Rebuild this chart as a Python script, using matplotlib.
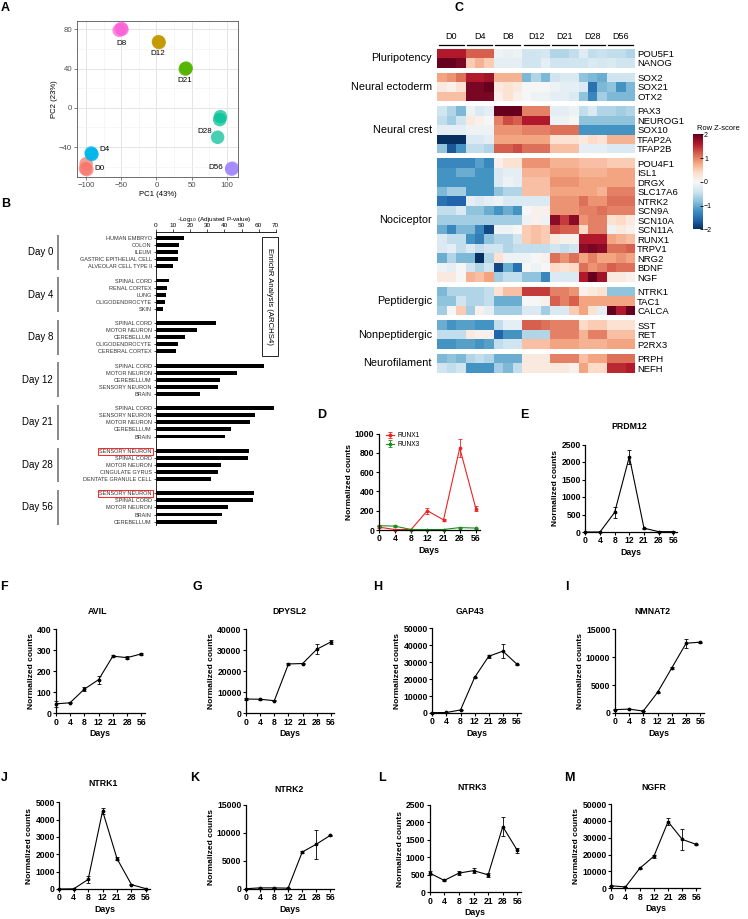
import numpy as np
import matplotlib
matplotlib.use('Agg')
import matplotlib.pyplot as plt
from matplotlib.patches import Rectangle
from matplotlib.transforms import blended_transform_factory as blend

plt.rcParams['font.family'] = ['Liberation Sans', 'DejaVu Sans']

W, H = 748, 919
fig = plt.figure(figsize=(W / 100, H / 100), dpi=100)


def px_axes(l, t, r, b):
    return fig.add_axes([l / W, 1 - b / H, (r - l) / W, (b - t) / H])


def ptext(x, y, s, **kw):
    return fig.text(x / W, 1 - y / H, s, **kw)


# ---------------- data ----------------
# A: PCA
pca_days = ['D0', 'D4', 'D8', 'D12', 'D21', 'D28', 'D56']
pca_colors = ['#F8766D', '#00B6EB', '#FB61D7', '#C49A00', '#53B400', '#00C094', '#A58AFF']
pc1 = [[-100, -101, -99], [-92, -93, -92], [-53, -50, -49], [3, 3, 4],
       [42, 42, 41], [91, 90, 87], [107, 107, 108]]
pc2 = [[-57, -62, -63], [-47, -46, -47.5], [79, 81, 80], [67, 67.5, 66.5],
       [40, 40.5, 39.5], [-9, -12, -30], [-62, -62.5, -61.5]]

# B: EnrichR
enr_days = ['Day 0', 'Day 4', 'Day 8', 'Day 12', 'Day 21', 'Day 28', 'Day 56']
enr_terms = [
    ['HUMAN EMBRYO', 'COLON', 'ILEUM', 'GASTRIC EPITHELIAL CELL', 'ALVEOLAR CELL TYPE II'],
    ['SPINAL CORD', 'RENAL CORTEX', 'LUNG', 'OLIGODENDROCYTE', 'SKIN'],
    ['SPINAL CORD', 'MOTOR NEURON', 'CEREBELLUM', 'OLIGODENDROCYTE', 'CEREBRAL CORTEX'],
    ['SPINAL CORD', 'MOTOR NEURON', 'CEREBELLUM', 'SENSORY NEURON', 'BRAIN'],
    ['SPINAL CORD', 'SENSORY NEURON', 'MOTOR NEURON', 'CEREBELLUM', 'BRAIN'],
    ['SENSORY NEURON', 'SPINAL CORD', 'MOTOR NEURON', 'CINGULATE GYRUS', 'DENTATE GRANULE CELL'],
    ['SENSORY NEURON', 'SPINAL CORD', 'MOTOR NEURON', 'BRAIN', 'CEREBELLUM'],
]
enr_vals = [
    [16.2, 13.5, 13.0, 12.7, 10.0],
    [7.6, 6.3, 5.7, 5.1, 4.1],
    [35.3, 23.9, 17.0, 12.7, 11.6],
    [63.3, 47.6, 37.3, 36.5, 25.7],
    [69.2, 58.0, 54.9, 43.7, 40.2],
    [54.3, 53.7, 38.0, 36.5, 32.4],
    [57.6, 56.7, 42.2, 38.4, 35.7],
]

# C: heatmap (row z-scores, 3 replicates per day)
hm_days = ['D0', 'D4', 'D8', 'D12', 'D21', 'D28', 'D56']
hm_groups = ['Pluripotency', 'Neural ectoderm', 'Neural crest', 'Nociceptor',
             'Peptidergic', 'Nonpeptidergic', 'Neurofilament']
hm_genes = [
    ['POU5F1', 'NANOG'],
    ['SOX2', 'SOX21', 'OTX2'],
    ['PAX3', 'NEUROG1', 'SOX10', 'TFAP2A', 'TFAP2B'],
    ['POU4F1', 'ISL1', 'DRGX', 'SLC17A6', 'NTRK2', 'SCN9A', 'SCN10A', 'SCN11A',
     'RUNX1', 'TRPV1', 'NRG2', 'BDNF', 'NGF'],
    ['NTRK1', 'TAC1', 'CALCA'],
    ['SST', 'RET', 'P2RX3'],
    ['PRPH', 'NEFH'],
]
z_pluri = [
    [1.6, 1.6, 1.6, 1.2, 1.2, 1.2, -0.1, -0.15, -0.1, -0.4, -0.4, -0.35, -0.6, -0.6, -0.5, -0.25, -0.5, -0.45, -0.5, -0.5, -0.6],
    [2.0, 2.0, 1.9, 0.5, 0.7, 0.5, -0.2, -0.2, -0.2, -0.4, -0.4, -0.2, -0.4, -0.4, -0.4, -0.4, -0.3, -0.35, -0.3, -0.4, -0.4],
]
z_ecto = [
    [0.8, 0.9, 1.1, 1.6, 1.6, 1.7, 0.7, 0.7, 0.7, -0.9, -0.6, -0.9, -0.4, -0.3, -0.3, -0.8, -0.9, -1.0, -0.4, -0.4, -0.4],
    [0.2, 0.1, 0.3, 1.9, 1.9, 2.0, 0.2, 0.3, 0.2, 0.0, 0.0, 0.0, -0.1, -0.2, -0.2, -0.3, -1.5, -0.9, -0.8, -1.2, -0.9],
    [0.6, 0.6, 0.6, 1.9, 1.9, 1.9, 0.1, 0.3, 0.1, 0.0, -0.1, -0.1, -0.2, -0.2, -0.3, -0.8, -1.3, -0.7, -0.9, -0.9, -0.9],
]
z_crest = [
    [-0.4, -0.6, -0.9, -0.1, -0.3, -0.2, 2.0, 2.0, 2.0, 1.0, 1.0, 1.0, -0.2, -0.2, -0.1, -0.5, -0.3, -0.6, -0.6, -0.7, -0.6],
    [-0.5, -0.7, -0.4, 0.2, 0.1, 0.0, 1.0, 1.3, 1.2, 1.6, 1.6, 1.6, -0.1, -0.1, 0.0, -0.8, -0.8, -0.8, -0.8, -0.8, -0.8],
    [-0.2, -0.2, -0.2, -0.1, -0.1, -0.1, 0.9, 0.9, 0.9, 1.0, 1.0, 1.0, 1.1, 1.1, 1.1, -1.2, -1.2, -1.2, -1.2, -1.2, -1.2],
    [-2.0, -2.1, -2.0, -0.3, -0.3, -0.2, 0.8, 0.8, 0.8, 0.8, 0.8, 0.8, 0.3, 0.3, 0.3, 0.2, 0.4, 0.3, 0.7, 0.7, 0.7],
    [-0.8, -1.7, -1.2, -0.5, -0.5, -0.6, 1.2, 1.2, 1.3, 1.1, 1.1, 1.1, 0.6, 0.6, 0.6, -0.2, -0.2, -0.2, -0.3, -0.3, -0.3],
]
z_noci = [
    [-1.3, -1.3, -1.3, -1.3, -1.1, -1.3, 0.1, 0.3, 0.3, 0.9, 0.9, 0.9, 0.7, 0.7, 0.7, 0.6, 0.6, 0.6, 0.5, 0.5, 0.5],
    [-1.2, -1.2, -1.0, -1.0, -1.2, -1.2, -0.3, -0.2, -0.2, 0.7, 0.7, 0.7, 0.8, 0.8, 0.8, 0.7, 0.7, 0.7, 0.8, 0.8, 0.8],
    [-1.2, -1.2, -1.2, -1.2, -1.2, -1.2, -0.3, -0.1, -0.2, 0.6, 0.6, 0.6, 0.9, 0.9, 0.9, 0.8, 0.8, 0.8, 0.8, 0.8, 0.8],
    [-0.9, -0.7, -0.7, -1.2, -1.2, -1.2, -0.8, -0.6, -0.6, 0.6, 0.6, 0.6, 0.8, 0.8, 0.8, 0.8, 0.8, 0.7, 1.0, 1.0, 1.0],
    [-1.5, -1.6, -1.6, -0.2, -0.3, -0.2, -0.1, -0.3, -0.3, -0.3, -0.3, -0.3, 0.9, 0.9, 0.9, 1.1, 0.9, 0.9, 1.1, 1.1, 1.1],
    [-0.5, -0.5, -0.3, -0.8, -0.8, -1.0, -1.2, -1.0, -1.2, 0.0, 0.1, 0.1, 0.9, 0.9, 0.9, 1.0, 1.0, 1.1, 1.0, 1.0, 1.0],
    [-0.7, -0.7, -0.7, -0.7, -0.7, -0.7, -0.7, -0.7, -0.7, -0.1, 0.1, -0.1, 1.8, 1.4, 1.8, 0.9, 1.0, 1.0, 0.3, 0.4, 0.2],
    [-1.0, -1.3, -0.9, -0.9, -1.3, -1.8, -0.1, -0.1, 0.0, 0.5, 0.6, 0.5, 1.3, 1.2, 1.2, 0.4, 1.0, 1.0, -0.1, 0.2, 0.1],
    [-0.3, -0.5, -0.5, -1.2, -1.4, -0.8, -0.6, -0.6, -0.4, 0.5, 0.6, 0.5, 0.2, 0.1, 0.1, 1.6, 1.6, 1.6, 0.8, 0.7, 0.6],
    [-0.3, -0.2, -0.5, -0.3, -0.5, -0.4, -0.4, -0.6, -0.5, -0.5, -0.5, -0.5, -0.4, -0.5, -0.4, 1.8, 1.9, 1.8, 1.1, 1.1, 1.2],
    [-1.0, -0.6, -0.9, -0.9, -2.0, -0.6, 0.3, -0.1, -0.1, -0.1, 0.0, 0.1, 1.1, 0.9, 1.1, 0.8, 1.0, 0.8, 0.8, 0.9, 0.8],
    [-0.1, -0.2, 0.0, -0.4, -0.6, -0.4, -1.8, -1.0, -1.5, 0.0, -0.1, 0.0, 0.4, 0.3, 0.4, 1.1, 0.9, 1.0, 1.2, 1.1, 1.1],
    [0.2, 0.2, 0.0, 0.7, 0.6, 0.8, -0.7, -0.5, -0.5, -0.8, -0.8, -1.3, -0.3, -0.3, -0.3, 1.6, 2.0, 1.7, 0.2, 0.2, 0.1],
]
z_pept = [
    [-0.9, -0.6, -0.6, -0.6, -0.6, -0.5, 0.3, 0.6, 0.6, 1.4, 1.4, 1.4, 1.0, 1.0, 0.9, 0.1, 0.2, 0.3, -0.8, -0.8, -0.8],
    [-0.8, -0.8, -0.4, -0.6, -0.6, -0.5, -1.0, -1.0, -1.0, 0.0, 0.0, 0.1, 1.2, 1.0, 1.2, 0.8, 0.8, 0.8, 0.8, 0.8, 0.8],
    [-0.7, 0.0, 0.5, -0.7, 0.1, -0.2, -0.7, -0.7, -0.7, -0.3, -0.3, -0.7, -0.3, -0.3, 0.5, 0.8, 0.3, -0.2, 2.2, 1.6, 2.2],
]
z_nonpept = [
    [-1.0, -1.2, -1.1, -1.1, -1.2, -1.2, -0.5, -0.2, -0.2, 1.2, 1.2, 1.1, 1.0, 1.0, 1.0, 0.4, 0.5, 0.5, 0.3, 0.3, 0.3],
    [-0.5, -0.5, -0.5, 0.2, 0.1, 0.1, -1.6, -1.2, -1.2, -0.6, -0.6, -0.6, 1.0, 1.0, 1.0, 0.7, 1.0, 1.0, 0.6, 0.6, 0.6],
    [-1.2, -1.2, -1.1, -1.1, -1.2, -1.1, -0.5, -0.4, -0.4, 0.6, 0.6, 0.6, 0.8, 0.8, 0.8, 0.7, 0.7, 0.7, 0.8, 0.8, 0.8],
]
z_neurofil = [
    [-0.9, -0.8, -0.9, -0.6, -0.5, -0.6, -1.0, -1.0, -1.0, 0.2, 0.2, 0.2, 1.0, 1.0, 1.0, 0.6, 0.8, 0.8, 1.1, 1.1, 1.1],
    [-0.4, -0.5, -0.4, -1.2, -1.2, -1.2, -0.7, -0.9, -0.5, 0.2, 0.2, 0.2, 0.2, 0.2, 0.1, 0.8, 0.4, 0.4, 1.5, 1.5, 1.6],
]
hm_z = [z_pluri, z_ecto, z_crest, z_noci, z_pept, z_nonpept, z_neurofil]

# D-M: normalized counts over time
time_days = ['0', '4', '8', '12', '21', '28', '56']
runx1 = [30, 5, 5, 200, 105, 850, 220]
runx1_err = [10, 3, 3, 30, 8, 90, 25]
runx3 = [45, 40, 5, 5, 5, 25, 20]
runx3_err = [5, 8, 2, 2, 2, 5, 5]
prdm12 = [0, 0, 560, 2150, 110, 10, 10]
prdm12_err = [0, 0, 150, 200, 15, 5, 5]
avil = [45, 50, 115, 160, 272, 265, 283]
avil_err = [15, 3, 10, 20, 6, 8, 4]
dpysl2 = [6800, 6700, 6000, 23500, 23700, 30500, 34000]
dpysl2_err = [300, 300, 300, 400, 400, 2500, 800]
gap43 = [200, 300, 1800, 21000, 33500, 36500, 28800]
gap43_err = [100, 100, 200, 500, 800, 4000, 400]
nmnat2 = [600, 700, 350, 3700, 8100, 12500, 12700]
nmnat2_err = [50, 50, 50, 100, 150, 800, 100]
ntrk1 = [0, 10, 550, 4500, 1750, 250, 20]
ntrk1_err = [0, 5, 200, 150, 80, 20, 5]
ntrk2 = [50, 200, 200, 150, 6600, 8000, 9600]
ntrk2_err = [10, 30, 30, 30, 100, 2600, 100]
ntrk3 = [550, 340, 550, 620, 500, 1880, 1200]
ntrk3_err = [50, 15, 50, 80, 50, 280, 70]
ngfr = [1500, 800, 11800, 19000, 39500, 29000, 26000]
ngfr_err = [100, 100, 400, 800, 2000, 6000, 500]

# ---------------- panel letters ----------------
for lt, x, y in [('A', 5, 8), ('B', 6, 204), ('C', 459, 8), ('D', 322, 415), ('E', 524, 415),
                 ('F', 4, 587), ('G', 197, 587), ('H', 378, 587), ('I', 567, 587),
                 ('J', 4, 778), ('K', 195, 778), ('L', 382, 778), ('M', 569, 778)]:
    ptext(x, y, lt, fontsize=9, fontweight='bold', ha='center', va='center')

# ---------------- A: PCA ----------------
axa = px_axes(77, 21, 238, 177)
for xs, ys, c in zip(pc1, pc2, pca_colors):
    axa.scatter(xs, ys, s=95, color=c, alpha=0.72, edgecolors='none', zorder=3)
lab_off = {'D0': (19, -1), 'D4': (19, 4), 'D8': (1, -14), 'D12': (-2, -12),
           'D21': (-2, -12), 'D28': (-21, -7), 'D56': (-23, 1)}
for d, xs, ys in zip(pca_days, pc1, pc2):
    dx, dy = lab_off[d]
    axa.text(np.mean(xs) + dx, np.mean(ys) + dy, d, fontsize=5.8, ha='center', va='center')
axa.set_xlim(-113, 116)
axa.set_ylim(-70.5, 88.5)
axa.set_xticks([-100, -50, 0, 50, 100])
axa.set_yticks([-40, 0, 40, 80])
axa.set_xticks([-75, -25, 25, 75], minor=True)
axa.set_yticks([-60, -20, 20, 60], minor=True)
axa.grid(True, which='major', color='#E5E5E5', lw=0.7)
axa.grid(True, which='minor', color='#F0F0F0', lw=0.4)
axa.set_axisbelow(True)
axa.tick_params(labelsize=5.6, colors='#4D4D4D', length=2, width=0.5, pad=1.5)
axa.tick_params(which='minor', length=0)
for s in axa.spines.values():
    s.set_color('#555555')
    s.set_linewidth(0.6)
axa.set_xlabel('PC1 (43%)', fontsize=5.6, labelpad=1.5)
axa.set_ylabel('PC2 (23%)', fontsize=5.6, labelpad=1)

# ---------------- B: EnrichR bars ----------------
row_px0, row_h = 238.0, 7.09
top_px, bot_px = 232, 525
axb = px_axes(156, top_px, 275.7, bot_px)
rows, vals, labels = [], [], []
for g, (terms, vv) in enumerate(zip(enr_terms, enr_vals)):
    for k, (t, v) in enumerate(zip(terms, vv)):
        rows.append(g * 6 + k)
        vals.append(v)
        labels.append(t)
axb.barh(rows, vals, height=0.55, color='black')
axb.set_xlim(0, 70)
axb.set_ylim((bot_px - row_px0) / row_h, (top_px - row_px0) / row_h)
axb.xaxis.tick_top()
axb.set_xticks(range(0, 80, 10))
axb.tick_params(axis='x', labelsize=4.6, length=2, width=0.5, pad=1)
axb.set_yticks(rows)
axb.set_yticklabels(labels)
axb.tick_params(axis='y', labelsize=4.0, length=1.5, width=0.5, pad=1.5, labelcolor='#333333')
for s in ['right', 'bottom']:
    axb.spines[s].set_visible(False)
for s in ['top', 'left']:
    axb.spines[s].set_linewidth(0.6)
for i, lbl in enumerate(axb.get_yticklabels()):
    if labels[i] == 'SENSORY NEURON' and rows[i] // 6 in (5, 6):
        lbl.set_bbox(dict(facecolor='none', edgecolor='red', linewidth=0.6, pad=0.8))
ptext(214, 220, r'-Log$_{10}$ (Adjusted P-value)', fontsize=4.6, ha='center', va='center')
tr = blend(fig.transFigure, axb.transData)
for g, d in enumerate(enr_days):
    axb.text(53 / W, g * 6 + 2, d, transform=tr, fontsize=7, ha='right', va='center')
    axb.plot([58 / W, 58 / W], [g * 6 - 0.45, g * 6 + 4.45], transform=tr,
             color='#808080', lw=1.3, clip_on=False, solid_capstyle='butt')
fig.add_artist(Rectangle((262 / W, 1 - 356 / H), 16 / W, 119 / H, transform=fig.transFigure,
                         facecolor='white', edgecolor='black', lw=0.6))
ptext(270, 296.5, 'EnrichR Analysis (ARCHS4)', fontsize=5.6, rotation=270, ha='center', va='center')

# ---------------- C: heatmap ----------------
gap = 0.526
axc = px_axes(437.3, 48.6, 635, 372.75)
y0 = 0.0
centers, names = [], []
mesh = None
for gname, genes, z in zip(hm_groups, hm_genes, hm_z):
    n = len(genes)
    mesh = axc.pcolormesh(np.arange(22), y0 + np.arange(n + 1), np.array(z),
                          cmap='RdBu_r', vmin=-2, vmax=2, shading='flat', edgecolors='none')
    centers += list(y0 + np.arange(n) + 0.5)
    names += genes
    axc.text(-0.55, y0 + n / 2, gname, fontsize=7.8, ha='right', va='center')
    y0 += n + gap
total = y0 - gap
axc.set_xlim(0, 21)
axc.set_ylim(total, 0)
axc.yaxis.tick_right()
axc.set_yticks(centers)
axc.set_yticklabels(names)
axc.tick_params(axis='y', length=0, labelsize=6.8, pad=1.5)
axc.set_xticks([])
for s in axc.spines.values():
    s.set_visible(False)
for i, d in enumerate(hm_days):
    axc.text(i * 3 + 1.5, -1.25, d, fontsize=6.5, ha='center', va='center')
    axc.plot([i * 3 + 0.18, i * 3 + 2.82], [-0.42, -0.42], color='black', lw=0.9, clip_on=False)

cax = px_axes(692.7, 134.3, 702.7, 229.3)
cb = fig.colorbar(mesh, cax=cax, ticks=[-2, -1, 0, 1, 2])
cb.outline.set_visible(False)
cax.tick_params(labelsize=5, length=2, width=0.6, pad=1, direction='in')
ptext(718, 128.5, 'Row Z-score', fontsize=5.4, ha='center', va='center')


# ---------------- D-M: time courses ----------------
def time_panel(box, series, ymax, ystep, title=None, title_xy=None):
    ax = px_axes(*box)
    x = np.arange(len(time_days))
    for vals_, errs_, col, name in series:
        h = ax.errorbar(x, vals_, yerr=errs_, color=col, lw=0.8, marker='o', ms=1.7,
                        elinewidth=0.6, capsize=1.4, capthick=0.6, label=name)
        for art in h.lines[0:1] + h.lines[1] + h.lines[2]:
            art.set_clip_on(False)
    ax.set_xlim(0, 6.25)
    ax.set_ylim(0, ymax)
    ax.set_xticks(x)
    ax.set_xticklabels(time_days)
    ax.set_yticks(np.arange(0, ymax + 1, ystep))
    for s in ['top', 'right']:
        ax.spines[s].set_visible(False)
    for s in ['left', 'bottom']:
        ax.spines[s].set_linewidth(0.9)
    ax.tick_params(labelsize=6.2, length=2, width=0.8, pad=1.2)
    for lbl in ax.get_xticklabels() + ax.get_yticklabels():
        lbl.set_fontweight('bold')
    ax.set_xlabel('Days', fontsize=6.3, fontweight='bold', labelpad=1.5)
    ax.set_ylabel('Normalized counts', fontsize=6, fontweight='bold', labelpad=1.5)
    if title:
        ptext(title_xy[0], title_xy[1], title, fontsize=6.3, fontweight='bold',
              ha='center', va='center')
    return ax


axd = time_panel((378.7, 433.5, 480, 530),
                 [(runx1, runx1_err, '#EE2222', 'RUNX1'), (runx3, runx3_err, '#1E8C1E', 'RUNX3')],
                 1000, 200)
axd.legend(loc='upper left', bbox_to_anchor=(0.05, 1.04), fontsize=4.8, frameon=False,
           handlelength=1.2, handletextpad=0.4, labelspacing=0.25, borderaxespad=0)

time_panel((585.3, 444.5, 677, 532), [(prdm12, prdm12_err, 'black', 'PRDM12')], 2500, 500,
           'PRDM12', (629, 427))
time_panel((55.7, 629.3, 145, 713.3), [(avil, avil_err, 'black', 'AVIL')], 400, 100,
           'AVIL', (98, 611.7))
time_panel((246, 629.3, 334.5, 713.3), [(dpysl2, dpysl2_err, 'black', 'DPYSL2')], 40000, 10000,
           'DPYSL2', (289, 611.7))
time_panel((432.3, 628.3, 520.5, 713), [(gap43, gap43_err, 'black', 'GAP43')], 50000, 10000,
           'GAP43', (470, 611.7))
time_panel((614.7, 629.3, 704, 713), [(nmnat2, nmnat2_err, 'black', 'NMNAT2')], 15000, 5000,
           'NMNAT2', (652.3, 611.7))
time_panel((59.3, 802.3, 149.5, 889), [(ntrk1, ntrk1_err, 'black', 'NTRK1')], 5000, 1000,
           'NTRK1', (103, 784))
time_panel((245.7, 805, 334, 889), [(ntrk2, ntrk2_err, 'black', 'NTRK2')], 15000, 5000,
           'NTRK2', (289.3, 789))
time_panel((429.7, 805, 521, 892.3), [(ntrk3, ntrk3_err, 'black', 'NTRK3')], 2500, 500,
           'NTRK3', (472.3, 787))
time_panel((611.3, 804, 700, 888.3), [(ngfr, ngfr_err, 'black', 'NGFR')], 50000, 10000,
           'NGFR', (654, 787))

fig.savefig('out.png', dpi=100)
